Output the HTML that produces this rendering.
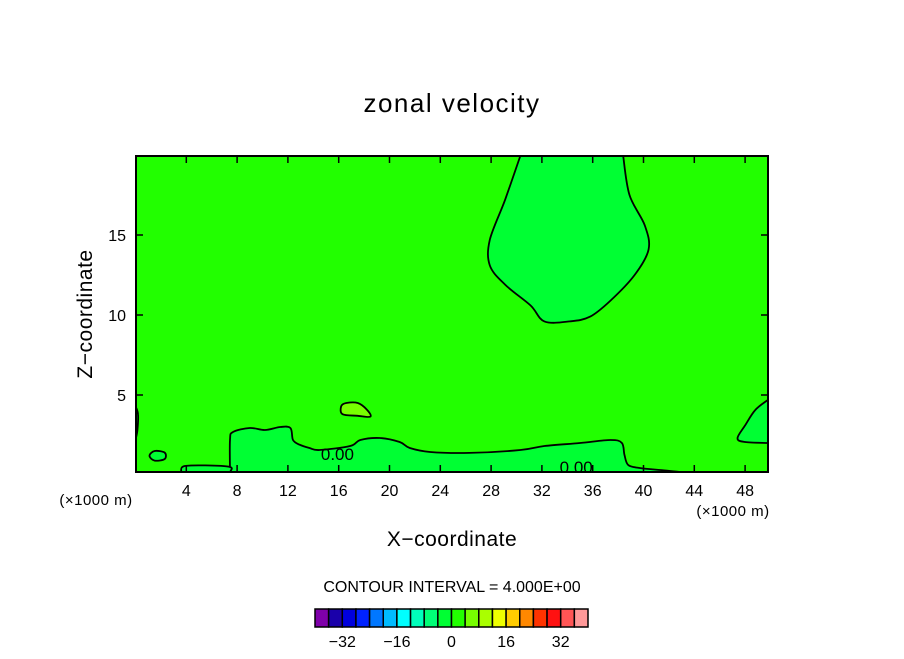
<!DOCTYPE html>
<html><head><meta charset="utf-8"><style>
body{margin:0;background:#fff}
text{font-family:"Liberation Sans",sans-serif;fill:#000}
</style></head><body>
<svg id="chart" width="904" height="654" viewBox="0 0 904 654" xmlns="http://www.w3.org/2000/svg">
<rect width="904" height="654" fill="#fff"/>
<text x="452" y="112" font-size="26" text-anchor="middle" letter-spacing="1.5">zonal velocity</text>
<g id="plot"></g>
<text transform="translate(92,314) rotate(-90)" font-size="21" text-anchor="middle" letter-spacing="0.5">Z−coordinate</text>
<text x="452" y="546" font-size="21" text-anchor="middle" letter-spacing="0.5">X−coordinate</text>
<text x="96" y="505" font-size="15" text-anchor="middle" letter-spacing="0.5">(×1000 m)</text>
<text x="733" y="516" font-size="15" text-anchor="middle" letter-spacing="0.5">(×1000 m)</text>
<text x="452" y="592" font-size="16" text-anchor="middle">CONTOUR INTERVAL = 4.000E+00</text>
<g id="cbar"></g>
</svg>
<script>
const xTicks=[4,8,12,16,20,24,28,32,36,40,44,48];
const yTicks=[5,10,15];
const cbarColors=["#7f00aa","#1a00aa","#0000dd","#0022ff","#0077ff","#00bbff","#00ffff","#00ffbb","#00ff77","#00ff33","#22ff00","#77ff00","#aaff00","#eeff00","#ffcc00","#ff8800","#ff3300","#ff1111","#ff5555","#ff9999"];
const cbarLabels=[-32,-16,0,16,32];
const topBlob=[[30.3,19.94],[29.1,17.2],[27.9,14.7],[27.9,13.1],[29.1,11.9],[31.1,10.6],[32.2,9.6],[34.2,9.6],[35.8,9.9],[37.4,10.9],[39.3,12.5],[40.4,14.1],[40.1,15.6],[38.9,17.5],[38.4,19.94]];
const bottomBand=[[7.44,0.19],[7.44,2.19],[7.68,2.69],[9.0,2.94],[10.2,2.81],[11.4,3.0],[12.2,2.94],[12.4,2.19],[12.9,1.9],[13.7,1.69],[14.5,1.56],[16.9,1.81],[17.7,2.19],[19.25,2.31],[20.8,2.06],[21.6,1.69],[23.2,1.44],[26.3,1.38],[30.3,1.56],[32.2,1.81],[35.0,2.0],[37.4,2.19],[38.3,2.0],[38.5,1.25],[38.8,0.62],[39.7,0.44],[41.3,0.31],[42.9,0.19]];
const leftBand=[[3.6,0.19],[3.8,0.55],[5.5,0.6],[7.44,0.5],[7.44,0.19]];
const leftEdge=[[0,4.3],[0.2,3.8],[0.15,2.8],[0,2.2]];
const patch=[[16.2,4.3],[16.6,4.5],[17.5,4.5],[18.2,4.1],[18.5,3.65],[17.5,3.7],[16.3,3.8]];
const rightRegion=[[49.8,4.7],[48.8,4.06],[48.0,3.1],[47.4,2.3],[48.0,2.06],[49.8,2.0]];
const leftEllipse=[[1.1,1.2],[1.5,1.5],[2.3,1.4],[2.3,1.0],[1.5,0.9]];
const labels=[[15.9,1.3],[34.7,0.5]];
const X0=135.5,XS=12.7,Y0=475,YS=16,L=136,R=768,T=156,B=472;
const sx=v=>X0+v*XS, sy=v=>Y0-v*YS;
const NS="http://www.w3.org/2000/svg";
const plot=document.getElementById('plot');
function mk(tag,attrs,parent){const e=document.createElementNS(NS,tag);for(const k in attrs)e.setAttribute(k,attrs[k]);parent.appendChild(e);return e;}
const bg=mk('rect',{x:L,y:T,width:R-L,height:B-T,fill:'#22ff00'},plot);


const cp=mk('clipPath',{id:'clip'},plot);mk('rect',{x:L,y:T,width:R-L,height:B-T},cp);
const g=mk('g',{'clip-path':'url(#clip)'},plot);
function smooth(pts,closed){
  const P=pts.map(p=>[sx(p[0]),sy(p[1])]);const n=P.length;
  let d='M'+P[0][0].toFixed(1)+','+P[0][1].toFixed(1);
  const last=closed?n:n-1;
  for(let i=0;i<last;i++){
    const p0=P[closed?(i-1+n)%n:Math.max(i-1,0)],p1=P[i],p2=P[(i+1)%n],p3=P[closed?(i+2)%n:Math.min(i+2,n-1)];
    const c1=[p1[0]+(p2[0]-p0[0])/6,p1[1]+(p2[1]-p0[1])/6],c2=[p2[0]-(p3[0]-p1[0])/6,p2[1]-(p3[1]-p1[1])/6];
    d+='C'+c1.map(v=>v.toFixed(1)).join(',')+' '+c2.map(v=>v.toFixed(1)).join(',')+' '+p2[0].toFixed(1)+','+p2[1].toFixed(1);
  }
  return d;
}
function poly(pts,fill,name,closed){
  const d=smooth(pts,closed);
  const e=mk('path',{d:d+'Z',fill:fill,stroke:'none'},g);
  
  
  const s=mk('path',{d:d,fill:'none',stroke:'#000','stroke-width':1.8},g);
  
  
}
poly(topBlob,'#00ff33','upper-negative-region',false);
poly(bottomBand,'#00ff33','lower-negative-band',false);
poly(leftBand,'#00ff33','left-negative-band',false);
poly(leftEdge,'#00ff33','left-edge-region',false);
poly(patch,'#77ff00','positive-patch',true);
poly(rightRegion,'#00ff33','right-negative-region',false);
poly(leftEllipse,'#00ff33','left-negative-cell',true);
labels.forEach(p=>{const t=mk('text',{x:sx(p[0]),y:sy(p[1])+6,'font-size':17,'text-anchor':'middle'},plot);t.textContent='0.00';

});
const fr=mk('rect',{x:L,y:T,width:R-L,height:B-T,fill:'none',stroke:'#000','stroke-width':2},plot);


xTicks.forEach(v=>{const x=sx(v);mk('line',{x1:x,x2:x,y1:B,y2:B-7,stroke:'#000','stroke-width':1.5},plot);mk('line',{x1:x,x2:x,y1:T,y2:T+7,stroke:'#000','stroke-width':1.5},plot);
const t=mk('text',{x:x,y:B+24,'font-size':16,'text-anchor':'middle'},plot);t.textContent=v;

});
yTicks.forEach(v=>{const y=sy(v);mk('line',{x1:L,x2:L+7,y1:y,y2:y,stroke:'#000','stroke-width':1.5},plot);mk('line',{x1:R,x2:R-7,y1:y,y2:y,stroke:'#000','stroke-width':1.5},plot);
const t=mk('text',{x:L-10,y:y+6,'font-size':16,'text-anchor':'end'},plot);t.textContent=v;

});
const cb=document.getElementById('cbar');const CX=315,CW=273/cbarColors.length,CY=609,CH=18;
cbarColors.forEach((c,i)=>{const r=mk('rect',{x:CX+i*CW,y:CY,width:CW,height:CH,fill:c,stroke:'#000','stroke-width':1.5},cb);

});
cbarLabels.forEach(v=>{const i=(v+40)/4;const t=mk('text',{x:CX+i*CW,y:647,'font-size':16,'text-anchor':'middle'},cb);t.textContent=v<0?'−'+(-v):v;

});
</script>
</body></html>
